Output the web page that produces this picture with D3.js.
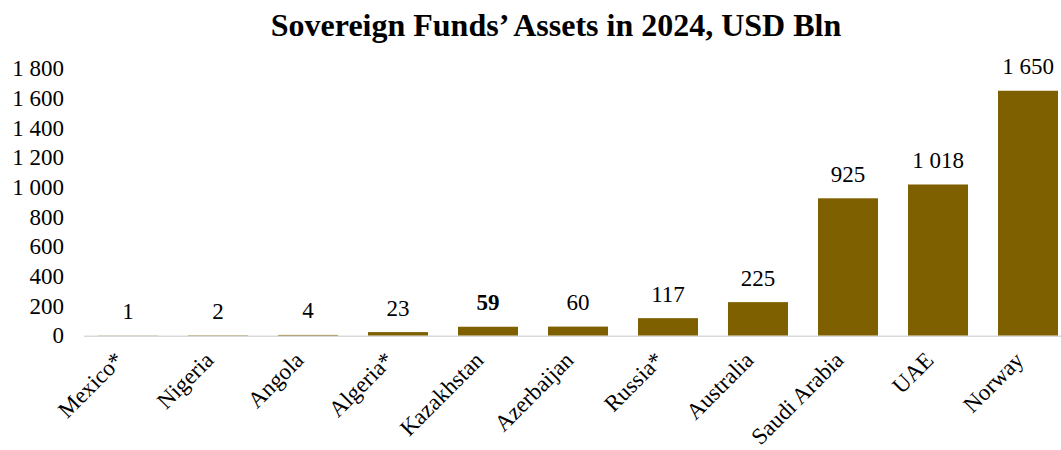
<!DOCTYPE html>
<html>
<head>
<meta charset="utf-8">
<script src="https://cdn.jsdelivr.net/npm/d3@7"></script>
<style>
  html, body { margin: 0; padding: 0; background: #fff; }
  svg { display: block; }
  text { font-family: "Liberation Serif", "Times New Roman", serif; fill: #000; }
</style>
</head>
<body>
<svg id="chart" width="1061" height="450"></svg>
<script>
// Sovereign wealth fund assets, 2024 (USD bn)
const countries = ["Mexico*", "Nigeria", "Angola", "Algeria*", "Kazakhstan", "Azerbaijan",
                   "Russia*", "Australia", "Saudi Arabia", "UAE", "Norway"];
const assets = [1, 2, 4, 23, 59, 60, 117, 225, 925, 1018, 1650];
const highlighted = ["Kazakhstan"];
const yTicks = [0, 200, 400, 600, 800, 1000, 1200, 1400, 1600, 1800];
const titleText = "Sovereign Funds’ Assets in 2024, USD Bln";

const data = countries.map((c, i) => ({ country: c, value: assets[i] }));

const svg = d3.select("#chart");
const barColor = "#7f6000";
const serif = "'Liberation Serif', 'Times New Roman', serif";

const locale = d3.formatLocale({ decimal: ".", thousands: " ", grouping: [3], currency: ["", ""] });
const fmt = locale.format(",d");

const x = d3.scaleBand()
  .domain(countries)
  .range([83, 1073])
  .paddingInner(1 / 3)
  .paddingOuter(1 / 6);

const y = d3.scaleLinear()
  .domain([0, 1800])
  .range([335.5, 68.5]);

// Title
svg.append("text")
  .attr("x", 556)
  .attr("y", 36)
  .attr("text-anchor", "middle")
  .attr("font-family", serif)
  .style("font-size", "32px")
  .style("font-weight", "bold")
  .text(titleText);

// Y axis labels (no axis line, no ticks)
const yAxis = d3.axisLeft(y)
  .tickValues(yTicks)
  .tickFormat(fmt)
  .tickSize(0)
  .tickPadding(0);

const yG = svg.append("g")
  .attr("transform", "translate(64,0)")
  .call(yAxis);
yG.attr("font-family", serif).attr("font-size", 23);
yG.select(".domain").remove();
yG.selectAll("text")
  .style("font-family", serif)
  .style("font-size", "23px")
  .attr("fill", "#000");

// Baseline
svg.append("line")
  .attr("x1", 84)
  .attr("x2", 1061)
  .attr("y1", y(0) + 0.75)
  .attr("y2", y(0) + 0.75)
  .attr("stroke", "#d9d9d9")
  .attr("stroke-width", 1.5);

// Bars
svg.append("g")
  .selectAll("rect")
  .data(data)
  .join("rect")
  .attr("x", d => x(d.country))
  .attr("width", x.bandwidth())
  .attr("y", d => y(d.value))
  .attr("height", d => y(0) - y(d.value))
  .attr("fill", barColor);

// Value labels
svg.append("g")
  .attr("font-family", serif)
  .selectAll("text")
  .data(data)
  .join("text")
  .attr("x", d => x(d.country) + x.bandwidth() / 2)
  .attr("y", d => y(d.value) - 16.5)
  .attr("text-anchor", "middle")
  .style("font-family", serif)
  .style("font-size", "23px")
  .style("font-weight", d => highlighted.includes(d.country) ? "bold" : "normal")
  .text(d => fmt(d.value));

// Category labels, rotated
const xAxis = d3.axisBottom(x).tickSize(0).tickPadding(0);
const xG = svg.append("g")
  .attr("transform", `translate(0,${y(0)})`)
  .call(xAxis);
xG.attr("font-family", serif).attr("font-size", 23);
xG.select(".domain").remove();
xG.selectAll("text")
  .attr("x", 0)
  .attr("y", 0)
  .attr("dy", 0)
  .attr("text-anchor", "end")
  .attr("transform", "translate(-3,26) rotate(-45)")
  .style("font-family", serif)
  .style("font-size", "23px")
  .attr("fill", "#000");
</script>
</body>
</html>
